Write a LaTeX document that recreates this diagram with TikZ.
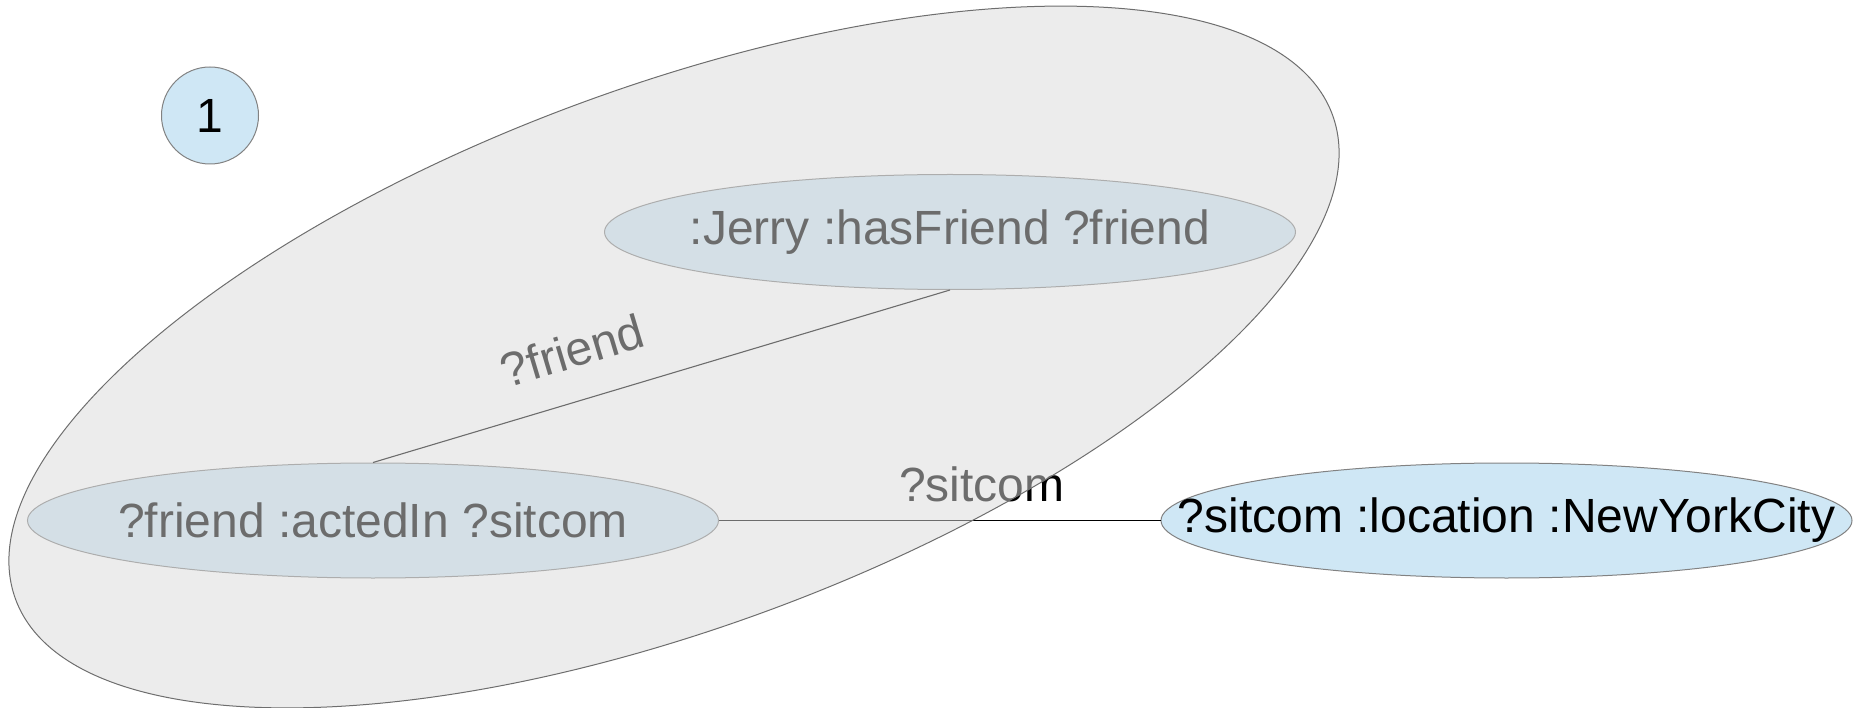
\documentclass[tikz,border=0pt]{standalone}
\usepackage{fontspec}
\setmainfont{Liberation Sans}
\usetikzlibrary{shapes.geometric}
\definecolor{nodeblue}{RGB}{207,231,245}
\definecolor{nodeline}{RGB}{130,130,130}
\definecolor{overlayfill}{RGB}{217,217,217}
\definecolor{overlayline}{RGB}{110,110,110}
\newcommand{\nodetext}[1]{\makebox[0pt]{#1}}
\tikzset{
  triple/.style={ellipse, draw=nodeline, line width=1pt, fill=nodeblue, minimum width=691pt, minimum height=115pt, inner sep=0pt, font=\fontsize{48}{58}\selectfont},
  numcircle/.style={circle, draw=nodeline, line width=1pt, fill=nodeblue, minimum size=97pt, inner sep=0pt, font=\fontsize{48}{58}\selectfont},
  link/.style={draw=black, line width=1.1pt},
  linklabel/.style={font=\fontsize{48}{58}\selectfont, inner sep=0pt},
  group/.style={fill=overlayfill, fill opacity=0.5, draw=overlayline, line width=1pt}
}
\begin{document}
\begin{tikzpicture}[x=1pt,y=-1pt]
\useasboundingbox (0,0) rectangle (1858,708);
\node[numcircle] (one) at (210,115.5) {1};
\node[triple] (jerry) at (950,232) {\nodetext{:Jerry :hasFriend ?friend}};
\node[triple] (acted) at (373,520.5) {\nodetext{?friend :actedIn ?sitcom}};
\node[triple] (loc) at (1506.5,520.5) {\nodetext{?sitcom :location :NewYorkCity}};
\path[link] (jerry.south) -- node[linklabel, pos=0.63, sloped, above=32pt] (lfriend) {?friend} (acted.north);
\path[link] (acted.east) -- node[linklabel, pos=0.595, above=18pt] (lsitcom) {?sitcom} (loc.west);
\path[group, rotate around={20.2:(674,357)}] (674,357) ellipse [x radius=701.6, y radius=270.5];
\end{tikzpicture}
\end{document}
